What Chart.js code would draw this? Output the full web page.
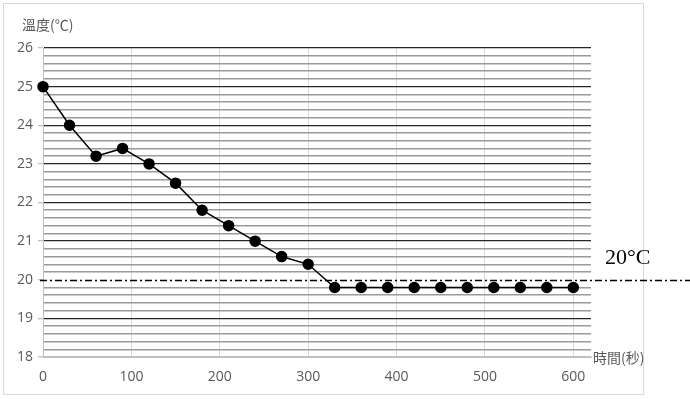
<!DOCTYPE html>
<html><head><meta charset="utf-8">
<script src="https://cdn.jsdelivr.net/npm/chart.js@4"></script>
<style>html,body{margin:0;padding:0;background:#fff}#wrap{width:690px;height:399px}</style>
</head><body><div id="wrap"><canvas id="c" width="690" height="399"></canvas></div>
<script>
const timeSec = [0,30,60,90,120,150,180,210,240,270,300,330,360,390,420,450,480,510,540,570,600];
const tempC = [25,24,23.2,23.4,23.0,22.5,21.8,21.4,21.0,20.6,20.4,19.8,19.8,19.8,19.8,19.8,19.8,19.8,19.8,19.8,19.8];
const xTickValues = [0,100,200,300,400,500,600];
const yAxisTitle = '溫度(℃)';
const xAxisTitle = '時間(秒)';
const refValue = 20;
const refLabel = '20°C';

const isInt = v => Math.abs(v - Math.round(v)) < 1e-6;

const decor = {
  id: 'decor',
  beforeDraw(chart) {
    const ctx = chart.ctx;
    ctx.save();
    ctx.fillStyle = '#fff';
    ctx.fillRect(0, 0, chart.width, chart.height);
    ctx.strokeStyle = '#d9d9d9';
    ctx.lineWidth = 1;
    ctx.strokeRect(3.5, 3.5, 640, 391);
    ctx.restore();
  },
  beforeDatasetsDraw(chart) {
    const ctx = chart.ctx;
    const y = Math.round(chart.scales.y.getPixelForValue(refValue)) + 0.5;
    ctx.save();
    ctx.strokeStyle = '#000';
    ctx.lineWidth = 1.3;
    ctx.setLineDash([7, 3, 2, 3]);
    ctx.beginPath();
    ctx.moveTo(40, y);
    ctx.lineTo(chart.width, y);
    ctx.stroke();
    ctx.setLineDash([]);
    ctx.fillStyle = '#000';
    ctx.font = '22px "Liberation Serif", serif';
    ctx.textBaseline = 'alphabetic';
    ctx.fillText(refLabel, 605, y - 17);
    ctx.fillStyle = '#595959';
    ctx.font = '14px "Noto Sans CJK TC", sans-serif';
    ctx.textBaseline = 'middle';
    ctx.fillText(yAxisTitle, 22, 25);
    ctx.fillText(xAxisTitle, 593, chart.chartArea.bottom + 1);
    ctx.restore();
  }
};

new Chart(document.getElementById('c'), {
  type: 'line',
  data: {
    datasets: [{
      data: timeSec.map((t, i) => ({x: t, y: tempC[i]})),
      borderColor: '#000',
      backgroundColor: '#000',
      borderWidth: 1.5,
      pointRadius: 5,
      pointHoverRadius: 5,
      pointBackgroundColor: '#000',
      pointBorderColor: '#000',
      tension: 0,
      clip: false
    }]
  },
  options: {
    responsive: false,
    animation: false,
    devicePixelRatio: 1,
    layout: {padding: {top: 48, right: 99, left: 0, bottom: 0}},
    plugins: {legend: {display: false}, tooltip: {enabled: false}},
    scales: {
      x: {
        type: 'linear',
        min: 0,
        max: 620,
        afterBuildTicks: s => { s.ticks = xTickValues.map(v => ({value: v})); },
        afterFit: s => { s.height = 42; },
        grid: {color: '#d9d9d9', lineWidth: 1, drawTicks: false},
        border: {display: true, color: '#bfbfbf'},
        ticks: {autoSkip: false, color: '#595959', font: {size: 14, family: '"Open Sans", sans-serif'}, padding: 12, maxRotation: 0}
      },
      y: {
        min: 18,
        max: 26,
        afterBuildTicks: s => {
          const t = [];
          for (let k = 0; k <= 40; k++) t.push({value: 18 + k * 0.2});
          s.ticks = t;
        },
        afterFit: s => { s.width = 43; },
        grid: {
          color: c => {
            const v = c.tick.value;
            if (Math.abs(v - refValue) < 1e-6) return 'rgba(0,0,0,0)';
            if (Math.abs(v - 18) < 1e-6) return '#bfbfbf';
            return isInt(v) ? '#262626' : '#9a9a9a';
          },
          lineWidth: c => isInt(c.tick.value) ? 1.3 : 1.5,
          tickColor: c => isInt(c.tick.value) ? '#bfbfbf' : 'rgba(0,0,0,0)',
          tickLength: 5
        },
        border: {display: true, color: '#bfbfbf'},
        ticks: {
          autoSkip: false,
          color: '#595959',
          font: {size: 14, family: '"Open Sans", sans-serif'},
          padding: 5,
          callback: v => isInt(v) ? String(Math.round(v)) : ''
        }
      }
    }
  },
  plugins: [decor]
});
</script></body></html>
